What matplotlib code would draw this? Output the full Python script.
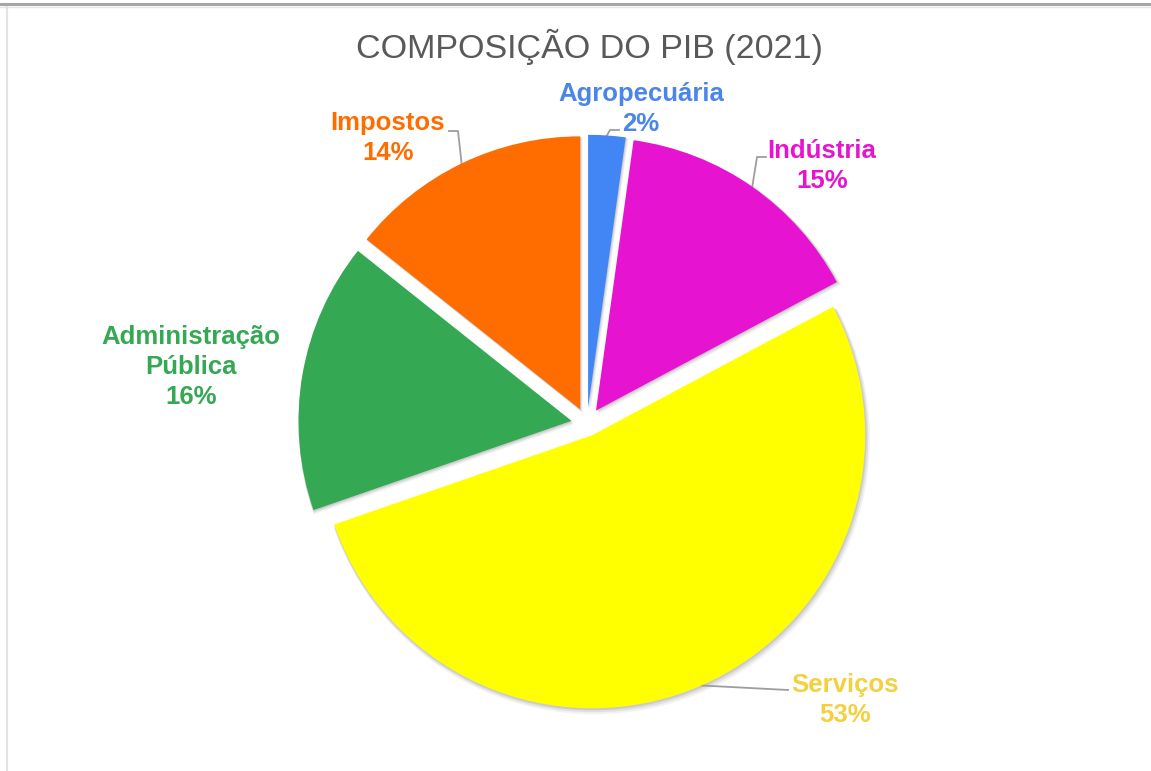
import numpy as np
import matplotlib
matplotlib.use("Agg")
import matplotlib.pyplot as plt
from matplotlib.patches import Wedge
from matplotlib.lines import Line2D

plt.rcParams['font.family'] = ['Liberation Sans', 'DejaVu Sans']

# data (clockwise from 12 o'clock)
setores = ["Agropecuária", "Indústria", "Serviços", "Administração\nPública", "Impostos"]
valores = [2.2, 15.0, 52.5, 16.0, 14.3]
rotulos_pct = ["2%", "15%", "53%", "16%", "14%"]
cores = ["#4285F4", "#E614D0", "#FFFF00", "#34A853", "#FF6D01"]
cores_txt = ["#4A86E8", "#E614D0", "#F4D03F", "#34A853", "#FF6D01"]
explode_frac = [0.0575, 0.0575, 0.047, 0.0575, 0.0575]

W, H = 1151, 771
fig = plt.figure(figsize=(W / 100, H / 100), dpi=100)
ax = fig.add_axes([0, 0, 1, 1])

cx, cy, R = 587, H - 423.5, 273
# pie's explode is in data units, so scale by the radius
wedges, _ = ax.pie(valores, colors=cores, startangle=90, counterclock=False,
                   explode=[e * R for e in explode_frac], center=(cx, cy), radius=R,
                   wedgeprops=dict(linewidth=0))

# soft grey shadow behind the slices
for w in wedges:
    for k, a in [(6, 0.05), (4, 0.07), (2, 0.09)]:
        s = Wedge((w.center[0] + k * 0.4, w.center[1] - k * 0.6), w.r + k * 0.4,
                  w.theta1, w.theta2, facecolor="black", alpha=a,
                  linewidth=0, zorder=w.get_zorder() - 0.5)
        ax.add_patch(s)

ax.set_xlim(0, W)
ax.set_ylim(0, H)
ax.set_aspect('auto')
ax.axis('off')

# label layout (image pixel coords: x, y from top)
txt_pos = [(641, 109), (822, 166), (845, 700), (191, 367), (388, 138)]
# leader line: knee and end points (None = no leader)
leader = [[(610, 130), (619, 130)],
          [(757, 157), (766, 157)],
          [(788, 690)],
          None,
          [(458, 131), (449, 131)]]

for i, w in enumerate(wedges):
    tx, ty = txt_pos[i]
    ax.text(tx, H - ty, setores[i] + "\n" + rotulos_pct[i], ha='center', va='center',
            fontsize=18.5, fontweight='bold', color=cores_txt[i], linespacing=1.3)
    if leader[i] is not None:
        th = np.deg2rad((w.theta1 + w.theta2) / 2)
        px = w.center[0] + w.r * np.cos(th)
        py = w.center[1] + w.r * np.sin(th)
        xs = [px] + [p[0] for p in leader[i]]
        ys = [py] + [H - p[1] for p in leader[i]]
        ax.plot(xs, ys, color="#9E9E9E", linewidth=1.3, zorder=0.5)

ax.text(589, H - 47, "COMPOSIÇÃO DO PIB (2021)", ha='center', va='center',
        fontsize=24.5, color="#595959")

# window border lines
fig.add_artist(Line2D([0, 1], [1 - 3.5 / H, 1 - 3.5 / H], color="#A6A6A6", linewidth=2.2))
fig.add_artist(Line2D([0, 1], [1 - 6.5 / H, 1 - 6.5 / H], color="#E6E6E6", linewidth=1))
fig.add_artist(Line2D([7 / W, 7 / W], [0, 1 - 6.5 / H], color="#E3E3E3", linewidth=1.5))

fig.savefig("out.png", dpi=100, facecolor="white")
